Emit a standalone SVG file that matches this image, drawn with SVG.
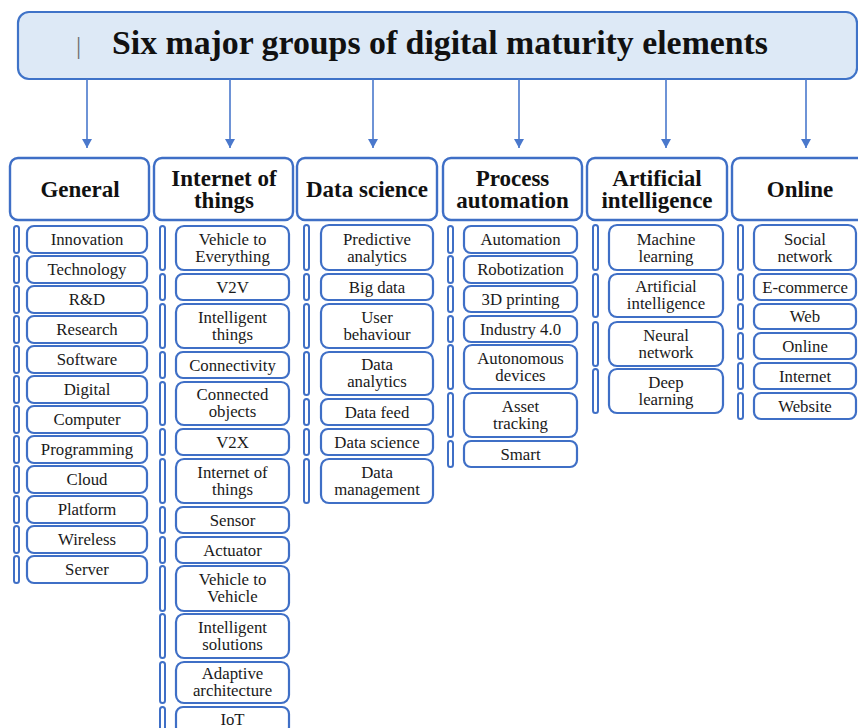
<svg xmlns="http://www.w3.org/2000/svg" width="858" height="728" viewBox="0 0 858 728">
<style>
.title{fill:#dde9f6;stroke:#3f73c8;stroke-width:2.2}
.hbox{fill:#fff;stroke:#3f6fc6;stroke-width:2.4}
.box{fill:#fff;stroke:#3f6fc6;stroke-width:2.2}
.bar{fill:#fff;stroke:#3f6fc6;stroke-width:2}
.tt{font-family:"Liberation Serif",serif;font-weight:bold;font-size:33px;fill:#111}
.hd{font-family:"Liberation Serif",serif;font-weight:bold;font-size:23px;text-anchor:middle;fill:#111}
.it{font-family:"Liberation Serif",serif;font-size:16.8px;text-anchor:middle;fill:#1a1a1a}
.conn line{stroke:#4a78cc;stroke-width:1.6}
</style>
<defs>
<marker id="ah" viewBox="0 0 10 11" refX="10" refY="5.5" markerWidth="11" markerHeight="10" orient="auto" markerUnits="userSpaceOnUse">
<path d="M0,0 L10,5.5 L0,11 z" fill="#4a78cc"/>
</marker>
</defs>
<rect width="858" height="728" fill="#fff"/>
<g id="title">
<rect class="title" x="18" y="12" width="839" height="67" rx="11"/>
<text x="76" y="54" font-family="Liberation Serif,serif" font-size="26" fill="#707070">|</text>
<text class="tt" x="112" y="54" textLength="656" lengthAdjust="spacingAndGlyphs">Six major groups of digital maturity elements</text>
</g>
<g class="conn" id="connectors">
<line x1="87" y1="79" x2="87" y2="148" marker-end="url(#ah)"/>
<line x1="230" y1="79" x2="230" y2="148" marker-end="url(#ah)"/>
<line x1="373" y1="79" x2="373" y2="148" marker-end="url(#ah)"/>
<line x1="519" y1="79" x2="519" y2="148" marker-end="url(#ah)"/>
<line x1="666" y1="79" x2="666" y2="148" marker-end="url(#ah)"/>
<line x1="806" y1="79" x2="806" y2="148" marker-end="url(#ah)"/>
</g>
<g id="general">
<rect class="hbox" x="10" y="158" width="139" height="62" rx="8"/>
<text class="hd" x="80" y="197">General</text>
<g id="general-items">
<rect class="bar" x="14" y="226" width="5" height="27" rx="2.5"/><rect class="box" x="27" y="226" width="120" height="27" rx="7"/><text class="it" x="87" y="245">Innovation</text>
<rect class="bar" x="14" y="256" width="5" height="27" rx="2.5"/><rect class="box" x="27" y="256" width="120" height="27" rx="7"/><text class="it" x="87" y="275">Technology</text>
<rect class="bar" x="14" y="286" width="5" height="27" rx="2.5"/><rect class="box" x="27" y="286" width="120" height="27" rx="7"/><text class="it" x="87" y="305">R&amp;D</text>
<rect class="bar" x="14" y="316" width="5" height="27" rx="2.5"/><rect class="box" x="27" y="316" width="120" height="27" rx="7"/><text class="it" x="87" y="335">Research</text>
<rect class="bar" x="14" y="346" width="5" height="27" rx="2.5"/><rect class="box" x="27" y="346" width="120" height="27" rx="7"/><text class="it" x="87" y="365">Software</text>
<rect class="bar" x="14" y="376" width="5" height="27" rx="2.5"/><rect class="box" x="27" y="376" width="120" height="27" rx="7"/><text class="it" x="87" y="395">Digital</text>
<rect class="bar" x="14" y="406" width="5" height="27" rx="2.5"/><rect class="box" x="27" y="406" width="120" height="27" rx="7"/><text class="it" x="87" y="425">Computer</text>
<rect class="bar" x="14" y="436" width="5" height="27" rx="2.5"/><rect class="box" x="27" y="436" width="120" height="27" rx="7"/><text class="it" x="87" y="455">Programming</text>
<rect class="bar" x="14" y="466" width="5" height="27" rx="2.5"/><rect class="box" x="27" y="466" width="120" height="27" rx="7"/><text class="it" x="87" y="485">Cloud</text>
<rect class="bar" x="14" y="496" width="5" height="27" rx="2.5"/><rect class="box" x="27" y="496" width="120" height="27" rx="7"/><text class="it" x="87" y="515">Platform</text>
<rect class="bar" x="14" y="526" width="5" height="27" rx="2.5"/><rect class="box" x="27" y="526" width="120" height="27" rx="7"/><text class="it" x="87" y="545">Wireless</text>
<rect class="bar" x="14" y="556" width="5" height="27" rx="2.5"/><rect class="box" x="27" y="556" width="120" height="27" rx="7"/><text class="it" x="87" y="575">Server</text>
</g>
</g>
<g id="iot">
<rect class="hbox" x="154" y="158" width="139" height="62" rx="8"/>
<text class="hd" x="224" y="186">Internet of<tspan x="224" dy="22">things</tspan></text>
<g id="iot-items">
<rect class="bar" x="160" y="226" width="5" height="44" rx="2.5"/><rect class="box" x="176" y="226" width="113" height="44" rx="8"/><text class="it" x="232.5" y="244.5">Vehicle to<tspan x="232.5" dy="17">Everything</tspan></text>
<rect class="bar" x="160" y="274" width="5" height="26" rx="2.5"/><rect class="box" x="176" y="274" width="113" height="26" rx="7"/><text class="it" x="232.5" y="293">V2V</text>
<rect class="bar" x="160" y="304" width="5" height="44" rx="2.5"/><rect class="box" x="176" y="304" width="113" height="44" rx="8"/><text class="it" x="232.5" y="322.5">Intelligent<tspan x="232.5" dy="17">things</tspan></text>
<rect class="bar" x="160" y="352" width="5" height="26" rx="2.5"/><rect class="box" x="176" y="352" width="113" height="26" rx="7"/><text class="it" x="232.5" y="371">Connectivity</text>
<rect class="bar" x="160" y="382" width="5" height="43" rx="2.5"/><rect class="box" x="176" y="382" width="113" height="43" rx="8"/><text class="it" x="232.5" y="400">Connected<tspan x="232.5" dy="17">objects</tspan></text>
<rect class="bar" x="160" y="429" width="5" height="26" rx="2.5"/><rect class="box" x="176" y="429" width="113" height="26" rx="7"/><text class="it" x="232.5" y="448">V2X</text>
<rect class="bar" x="160" y="459" width="5" height="44" rx="2.5"/><rect class="box" x="176" y="459" width="113" height="44" rx="8"/><text class="it" x="232.5" y="477.5">Internet of<tspan x="232.5" dy="17">things</tspan></text>
<rect class="bar" x="160" y="507" width="5" height="26" rx="2.5"/><rect class="box" x="176" y="507" width="113" height="26" rx="7"/><text class="it" x="232.5" y="526">Sensor</text>
<rect class="bar" x="160" y="537" width="5" height="26" rx="2.5"/><rect class="box" x="176" y="537" width="113" height="26" rx="7"/><text class="it" x="232.5" y="556">Actuator</text>
<rect class="bar" x="160" y="566" width="5" height="45" rx="2.5"/><rect class="box" x="176" y="566" width="113" height="45" rx="8"/><text class="it" x="232.5" y="585">Vehicle to<tspan x="232.5" dy="17">Vehicle</tspan></text>
<rect class="bar" x="160" y="614" width="5" height="44" rx="2.5"/><rect class="box" x="176" y="614" width="113" height="44" rx="8"/><text class="it" x="232.5" y="632.5">Intelligent<tspan x="232.5" dy="17">solutions</tspan></text>
<rect class="bar" x="160" y="662" width="5" height="41" rx="2.5"/><rect class="box" x="176" y="662" width="113" height="41" rx="8"/><text class="it" x="232.5" y="679">Adaptive<tspan x="232.5" dy="17">architecture</tspan></text>
<rect class="bar" x="160" y="707" width="5" height="27" rx="2.5"/><rect class="box" x="176" y="707" width="113" height="27" rx="7"/><text class="it" x="232.5" y="725">IoT</text>
</g>
</g>
<g id="datascience">
<rect class="hbox" x="297" y="158" width="140" height="62" rx="8"/>
<text class="hd" x="367" y="197">Data science</text>
<g id="datascience-items">
<rect class="bar" x="304" y="225" width="5" height="45" rx="2.5"/><rect class="box" x="321" y="225" width="112" height="45" rx="8"/><text class="it" x="377" y="244.5">Predictive<tspan x="377" dy="17">analytics</tspan></text>
<rect class="bar" x="304" y="274" width="5" height="26" rx="2.5"/><rect class="box" x="321" y="274" width="112" height="26" rx="7"/><text class="it" x="377" y="293">Big data</text>
<rect class="bar" x="304" y="304" width="5" height="44" rx="2.5"/><rect class="box" x="321" y="304" width="112" height="44" rx="8"/><text class="it" x="377" y="322.5">User<tspan x="377" dy="17">behaviour</tspan></text>
<rect class="bar" x="304" y="352" width="5" height="43" rx="2.5"/><rect class="box" x="321" y="352" width="112" height="43" rx="8"/><text class="it" x="377" y="370">Data<tspan x="377" dy="17">analytics</tspan></text>
<rect class="bar" x="304" y="399" width="5" height="26" rx="2.5"/><rect class="box" x="321" y="399" width="112" height="26" rx="7"/><text class="it" x="377" y="418">Data feed</text>
<rect class="bar" x="304" y="429" width="5" height="26" rx="2.5"/><rect class="box" x="321" y="429" width="112" height="26" rx="7"/><text class="it" x="377" y="448">Data science</text>
<rect class="bar" x="304" y="459" width="5" height="44" rx="2.5"/><rect class="box" x="321" y="459" width="112" height="44" rx="8"/><text class="it" x="377" y="477.5">Data<tspan x="377" dy="17">management</tspan></text>
</g>
</g>
<g id="process">
<rect class="hbox" x="443" y="158" width="139" height="62" rx="8"/>
<text class="hd" x="512.5" y="186">Process<tspan x="512.5" dy="22">automation</tspan></text>
<g id="process-items">
<rect class="bar" x="448" y="226" width="5" height="27" rx="2.5"/><rect class="box" x="464" y="226" width="113" height="27" rx="7"/><text class="it" x="520.5" y="245">Automation</text>
<rect class="bar" x="448" y="256" width="5" height="27" rx="2.5"/><rect class="box" x="464" y="256" width="113" height="27" rx="7"/><text class="it" x="520.5" y="275">Robotization</text>
<rect class="bar" x="448" y="286" width="5" height="26" rx="2.5"/><rect class="box" x="464" y="286" width="113" height="26" rx="7"/><text class="it" x="520.5" y="305">3D printing</text>
<rect class="bar" x="448" y="316" width="5" height="26" rx="2.5"/><rect class="box" x="464" y="316" width="113" height="26" rx="7"/><text class="it" x="520.5" y="335">Industry 4.0</text>
<rect class="bar" x="448" y="345" width="5" height="44" rx="2.5"/><rect class="box" x="464" y="345" width="113" height="44" rx="8"/><text class="it" x="520.5" y="363.5">Autonomous<tspan x="520.5" dy="17">devices</tspan></text>
<rect class="bar" x="448" y="393" width="5" height="44" rx="2.5"/><rect class="box" x="464" y="393" width="113" height="44" rx="8"/><text class="it" x="520.5" y="411.5">Asset<tspan x="520.5" dy="17">tracking</tspan></text>
<rect class="bar" x="448" y="441" width="5" height="26" rx="2.5"/><rect class="box" x="464" y="441" width="113" height="26" rx="7"/><text class="it" x="520.5" y="460">Smart</text>
</g>
</g>
<g id="ai">
<rect class="hbox" x="587" y="158" width="140" height="62" rx="8"/>
<text class="hd" x="657" y="186">Artificial<tspan x="657" dy="22">intelligence</tspan></text>
<g id="ai-items">
<rect class="bar" x="593" y="225" width="5" height="45" rx="2.5"/><rect class="box" x="609" y="225" width="114" height="45" rx="8"/><text class="it" x="666" y="244.5">Machine<tspan x="666" dy="17">learning</tspan></text>
<rect class="bar" x="593" y="274" width="5" height="43" rx="2.5"/><rect class="box" x="609" y="274" width="114" height="43" rx="8"/><text class="it" x="666" y="292">Artificial<tspan x="666" dy="17">intelligence</tspan></text>
<rect class="bar" x="593" y="322" width="5" height="44" rx="2.5"/><rect class="box" x="609" y="322" width="114" height="44" rx="8"/><text class="it" x="666" y="340.5">Neural<tspan x="666" dy="17">network</tspan></text>
<rect class="bar" x="593" y="369" width="5" height="44" rx="2.5"/><rect class="box" x="609" y="369" width="114" height="44" rx="8"/><text class="it" x="666" y="387.5">Deep<tspan x="666" dy="17">learning</tspan></text>
</g>
</g>
<g id="online">
<rect class="hbox" x="732" y="158" width="140" height="62" rx="8"/>
<text class="hd" x="800" y="197">Online</text>
<g id="online-items">
<rect class="bar" x="738" y="225" width="5" height="45" rx="2.5"/><rect class="box" x="754" y="225" width="102" height="45" rx="8"/><text class="it" x="805" y="244.5">Social<tspan x="805" dy="17">network</tspan></text>
<rect class="bar" x="738" y="274" width="5" height="26" rx="2.5"/><rect class="box" x="754" y="274" width="102" height="26" rx="7"/><text class="it" x="805" y="293">E-commerce</text>
<rect class="bar" x="738" y="304" width="5" height="25" rx="2.5"/><rect class="box" x="754" y="304" width="102" height="25" rx="7"/><text class="it" x="805" y="322">Web</text>
<rect class="bar" x="738" y="333" width="5" height="26" rx="2.5"/><rect class="box" x="754" y="333" width="102" height="26" rx="7"/><text class="it" x="805" y="352">Online</text>
<rect class="bar" x="738" y="363" width="5" height="26" rx="2.5"/><rect class="box" x="754" y="363" width="102" height="26" rx="7"/><text class="it" x="805" y="382">Internet</text>
<rect class="bar" x="738" y="393" width="5" height="26" rx="2.5"/><rect class="box" x="754" y="393" width="102" height="26" rx="7"/><text class="it" x="805" y="412">Website</text>
</g>
</g>
</svg>
